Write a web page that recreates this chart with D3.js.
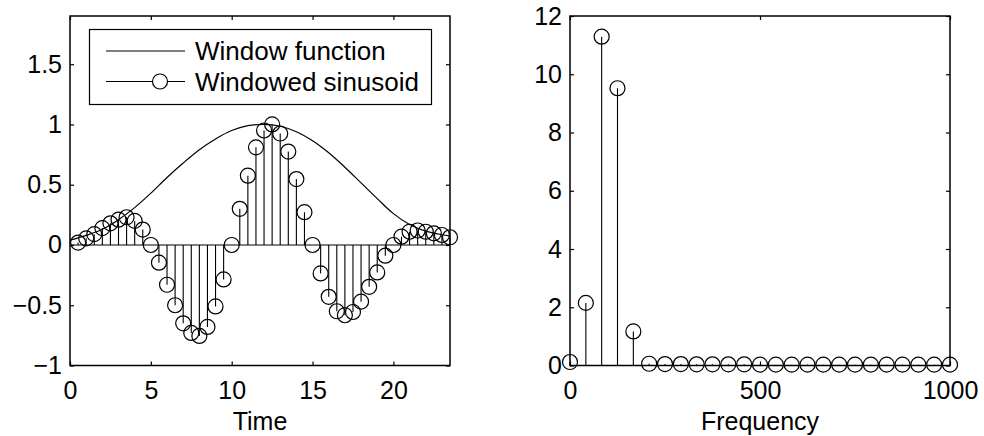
<!DOCTYPE html>
<html>
<head>
<meta charset="utf-8">
<script src="https://cdn.jsdelivr.net/npm/d3@7/dist/d3.min.js"></script>
<style>
  html, body { margin: 0; padding: 0; background: #fff; }
  svg { display: block; }
  text { font-family: "Liberation Sans", Arial, Helvetica, sans-serif; fill: #000; }
</style>
</head>
<body>
<svg id="chart" width="984" height="436"></svg>
<script>
// Sample times of the windowed signal
const sampleTime = [0.5, 1, 1.5, 2, 2.5, 3, 3.5, 4, 4.5, 5, 5.5, 6, 6.5, 7, 7.5, 8,
  8.5, 9, 9.5, 10, 10.5, 11, 11.5, 12, 12.5, 13, 13.5, 14, 14.5, 15, 15.5, 16,
  16.5, 17, 17.5, 18, 18.5, 19, 19.5, 20, 20.5, 21, 21.5, 22, 22.5, 23, 23.5];
// Windowed sinusoid samples
const windowedSinusoid = [0.02, 0.055, 0.09, 0.14, 0.18, 0.21, 0.23, 0.20, 0.128, 0.0,
  -0.147, -0.33, -0.50, -0.65, -0.73, -0.755, -0.68, -0.51, -0.286, 0.0,
  0.30, 0.575, 0.81, 0.95, 1.0, 0.925, 0.775, 0.547, 0.272, 0.0,
  -0.236, -0.43, -0.55, -0.583, -0.556, -0.47, -0.347, -0.228, -0.089, 0.0,
  0.069, 0.11, 0.12, 0.11, 0.097, 0.083, 0.064];
// Window function curve
const windowTime = [0, 1, 2, 3, 4, 5, 6, 7, 8, 9, 10, 11, 12, 13, 14, 15, 16, 17,
  18, 19, 20, 21, 22, 23, 23.5];
const windowValue = [0.04, 0.08, 0.13, 0.21, 0.31, 0.43, 0.56, 0.68, 0.79, 0.88, 0.95,
  0.99, 1.0, 0.985, 0.94, 0.865, 0.765, 0.645, 0.515, 0.385, 0.26, 0.17, 0.115,
  0.085, 0.075];
// Spectrum magnitude
const frequency = [0, 41.7, 83.3, 125, 166.7, 208.3, 250, 291.7, 333.3, 375, 416.7,
  458.3, 500, 541.7, 583.3, 625, 666.7, 708.3, 750, 791.7, 833.3, 875, 916.7, 958.3, 1000];
const magnitude = [0.12, 2.15, 11.29, 9.52, 1.17, 0.06, 0.05, 0.05, 0.04, 0.04, 0.04,
  0.04, 0.03, 0.03, 0.03, 0.03, 0.03, 0.03, 0.03, 0.03, 0.03, 0.03, 0.03, 0.03, 0.03];
// Tick values
const timeTicks = [0, 5, 10, 15, 20];
const ampTicks = [-1, -0.5, 0, 0.5, 1, 1.5];
const freqTicks = [0, 500, 1000];
const magTicks = [0, 2, 4, 6, 8, 10, 12];
// Legend entries
const legendLabels = ["Window function", "Windowed sinusoid"];

const svg = d3.select("#chart");
const FS = 25;
const TICK = 4;
const fmt = d3.format("~g");

function frame(g, x, y, xTicks, yTicks, xLabel) {
  const [x0, x1] = x.range();
  const [y0, y1] = y.range();
  // inward ticks on all four sides
  g.append("g").attr("transform", `translate(0,${y0})`)
    .call(d3.axisBottom(x).tickValues(xTicks).tickSizeInner(-TICK).tickSizeOuter(0).tickPadding(16).tickFormat(fmt))
    .call(a => a.select(".domain").remove());
  g.append("g").attr("transform", `translate(0,${y1})`)
    .call(d3.axisTop(x).tickValues(xTicks).tickSizeInner(-TICK).tickSizeOuter(0).tickFormat(""))
    .call(a => a.select(".domain").remove());
  g.append("g").attr("transform", `translate(${x0},0)`)
    .call(d3.axisLeft(y).tickValues(yTicks).tickSizeInner(-TICK).tickSizeOuter(0).tickPadding(8).tickFormat(fmt))
    .call(a => a.select(".domain").remove());
  g.append("g").attr("transform", `translate(${x1},0)`)
    .call(d3.axisRight(y).tickValues(yTicks).tickSizeInner(-TICK).tickSizeOuter(0).tickFormat(""))
    .call(a => a.select(".domain").remove());
  g.selectAll(".tick line").attr("stroke", "#000").attr("stroke-width", 1.2);
  g.selectAll(".tick text").attr("font-size", FS).attr("font-family", null).attr("fill", "#000");
  g.append("rect")
    .attr("x", x0).attr("y", y1).attr("width", x1 - x0).attr("height", y0 - y1)
    .attr("fill", "none").attr("stroke", "#000").attr("stroke-width", 1.5);
  g.append("text")
    .attr("x", (x0 + x1) / 2).attr("y", y0 + 64)
    .attr("text-anchor", "middle").attr("font-size", FS)
    .text(xLabel);
}

function stems(g, x, y, xs, ys) {
  const pts = xs.map((d, i) => [d, ys[i]]);
  g.append("g").selectAll("line").data(pts).join("line")
    .attr("x1", d => x(d[0])).attr("x2", d => x(d[0]))
    .attr("y1", y(0)).attr("y2", d => y(d[1]))
    .attr("stroke", "#000").attr("stroke-width", 1.1);
  g.append("g").selectAll("circle").data(pts).join("circle")
    .attr("cx", d => x(d[0])).attr("cy", d => y(d[1])).attr("r", 7.5)
    .attr("fill", "none").attr("stroke", "#000").attr("stroke-width", 1.2);
}

// ---- left panel: time domain ----
const xT = d3.scaleLinear().domain([0, 23.5]).range([70, 450]);
const yA = d3.scaleLinear().domain([-1, 1.9]).range([365.5, 16]);
const left = svg.append("g");
frame(left, xT, yA, timeTicks, ampTicks, "Time");

left.append("path")
  .datum(windowTime.map((t, i) => [t, windowValue[i]]))
  .attr("d", d3.line().x(d => xT(d[0])).y(d => yA(d[1])).curve(d3.curveCatmullRom))
  .attr("fill", "none").attr("stroke", "#000").attr("stroke-width", 1.2);

// stem baseline
left.append("line")
  .attr("x1", xT(0)).attr("x2", xT(23.5)).attr("y1", yA(0)).attr("y2", yA(0))
  .attr("stroke", "#000").attr("stroke-width", 1.1);
stems(left, xT, yA, sampleTime, windowedSinusoid);

// legend
const lg = left.append("g");
lg.append("rect").attr("x", 89.5).attr("y", 29.5).attr("width", 342).attr("height", 75)
  .attr("fill", "#fff").attr("stroke", "#000").attr("stroke-width", 1.2);
const rowsY = [51, 81.5];
legendLabels.forEach((lab, i) => {
  lg.append("line").attr("x1", 106).attr("x2", 185).attr("y1", rowsY[i]).attr("y2", rowsY[i])
    .attr("stroke", "#000").attr("stroke-width", 1.2);
  if (i === 1) {
    lg.append("circle").attr("cx", 160).attr("cy", rowsY[i]).attr("r", 7.5)
      .attr("fill", "#fff").attr("stroke", "#000").attr("stroke-width", 1.2);
  }
  lg.append("text").attr("x", 195).attr("y", rowsY[i] + 9.2)
    .attr("font-size", 26).text(lab);
});

// ---- right panel: spectrum ----
const xF = d3.scaleLinear().domain([0, 1000]).range([570, 950]);
const yM = d3.scaleLinear().domain([0, 12]).range([365.5, 16]);
const right = svg.append("g");
frame(right, xF, yM, freqTicks, magTicks, "Frequency");
stems(right, xF, yM, frequency, magnitude);
</script>
</body>
</html>
